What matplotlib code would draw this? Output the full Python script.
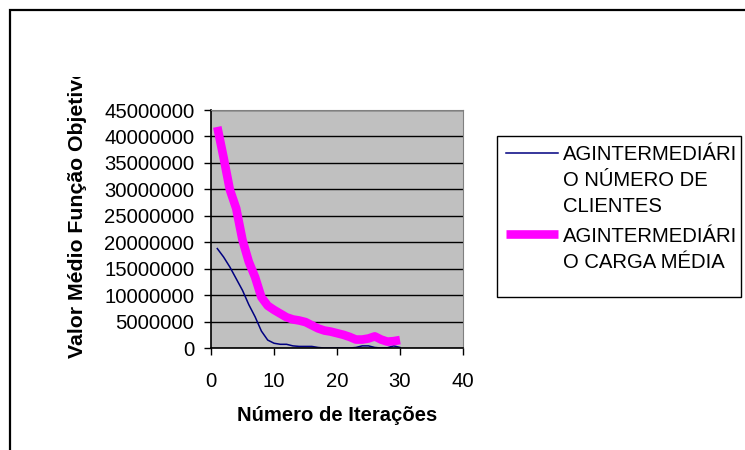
import matplotlib
matplotlib.use("Agg")
from matplotlib import pyplot as plt
from matplotlib.patches import Rectangle
from matplotlib.lines import Line2D
from matplotlib.transforms import Bbox, TransformedBbox

plt.rcParams['font.family'] = ['Liberation Sans', 'DejaVu Sans']

iterations = [1, 2, 3, 4, 5, 6, 7, 8, 9, 10, 11, 12, 13, 14, 15,
              16, 17, 18, 19, 20, 21, 22, 23, 24, 25, 26, 27, 28, 29, 30]
numero_clientes = [18800000, 17200000, 15300000, 13100000, 10900000, 8200000,
                   5900000, 3200000, 1500000, 900000, 700000, 700000, 400000,
                   300000, 300000, 300000, 100000, 0, 0, 0, 0, 0, 100000,
                   400000, 400000, 100000, 0, 50000, 400000, 100000]
carga_media = [41800000, 36000000, 29900000, 26400000, 20400000, 16300000,
               13400000, 9600000, 8000000, 7200000, 6500000, 5800000, 5400000,
               5200000, 4900000, 4300000, 3700000, 3300000, 3100000, 2800000,
               2500000, 2100000, 1600000, 1600000, 1800000, 2200000, 1600000,
               1200000, 1300000, 1500000]
series_labels = ["AGINTERMEDIÁRI\nO NÚMERO DE\nCLIENTES",
                 "AGINTERMEDIÁRI\nO CARGA MÉDIA"]
y_ticks = [0, 5000000, 10000000, 15000000, 20000000, 25000000,
           30000000, 35000000, 40000000, 45000000]
x_ticks = [0, 10, 20, 30, 40]

W, H = 745, 450
fig = plt.figure(figsize=(W / 100, H / 100), dpi=100)


def fx(px):
    return px / W


def fy(py):
    return 1 - py / H


# outer chart frame (runs off the right and bottom edges)
fig.patches.append(Rectangle((fx(10), -0.1), 1.2, fy(10) + 0.1,
                             transform=fig.transFigure, fill=False,
                             ec='black', lw=1.6))

ax = fig.add_axes([fx(211), fy(348), fx(463) - fx(211), fy(110) - fy(348)])
ax.set_facecolor('#c0c0c0')
ax.plot(iterations, numero_clientes, color='#000080', lw=1.1)
ax.plot(iterations, carga_media, color='#ff00ff', lw=6.2, solid_capstyle='butt')

ax.set_xlim(0, 40)
ax.set_ylim(0, 45000000)
ax.set_xticks(x_ticks)
ax.set_yticks(y_ticks)
ax.set_yticklabels([str(v) for v in y_ticks])
ax.yaxis.grid(True, color='black', lw=1)
ax.set_axisbelow(True)
ax.tick_params(axis='y', direction='out', length=5, width=1, pad=7, labelsize=14.6)
ax.tick_params(axis='x', direction='out', length=5, width=1, pad=12, labelsize=14.6)
for s in ['top', 'right']:
    ax.spines[s].set_color('#808080')
for s in ['left', 'bottom']:
    ax.spines[s].set_color('black')
    ax.spines[s].set_linewidth(1.2)

fig.text(fx(337), fy(421), "Número de Iterações", ha='center', va='baseline',
         fontsize=14.6, fontweight='bold')
# y label is cut off at the top in the original chart
ylab = fig.text(fx(78), fy(358), "Valor Médio Função Objetivo", rotation=90,
                ha='center', va='bottom', fontsize=15.3, fontweight='bold')
ylab.set_clip_box(TransformedBbox(Bbox([[0, 0], [1, fy(77)]]), fig.transFigure))
ylab.set_clip_on(True)

# legend box
fig.patches.append(Rectangle((fx(497), fy(297)), fx(741) - fx(497), fy(136) - fy(297),
                             transform=fig.transFigure, fill=True, fc='white',
                             ec='black', lw=1))
fig.lines.append(Line2D([fx(506), fx(558)], [fy(153), fy(153)],
                        transform=fig.transFigure, color='#000080', lw=1.1))
fig.lines.append(Line2D([fx(506), fx(558)], [fy(234), fy(234)],
                        transform=fig.transFigure, color='#ff00ff', lw=6.2,
                        solid_capstyle='butt'))
fig.text(fx(563), fy(145), series_labels[0], ha='left', va='top',
         fontsize=14.6, linespacing=1.45)
fig.text(fx(563), fy(227), series_labels[1], ha='left', va='top',
         fontsize=14.6, linespacing=1.45)

fig.savefig("out.png", dpi=100)
